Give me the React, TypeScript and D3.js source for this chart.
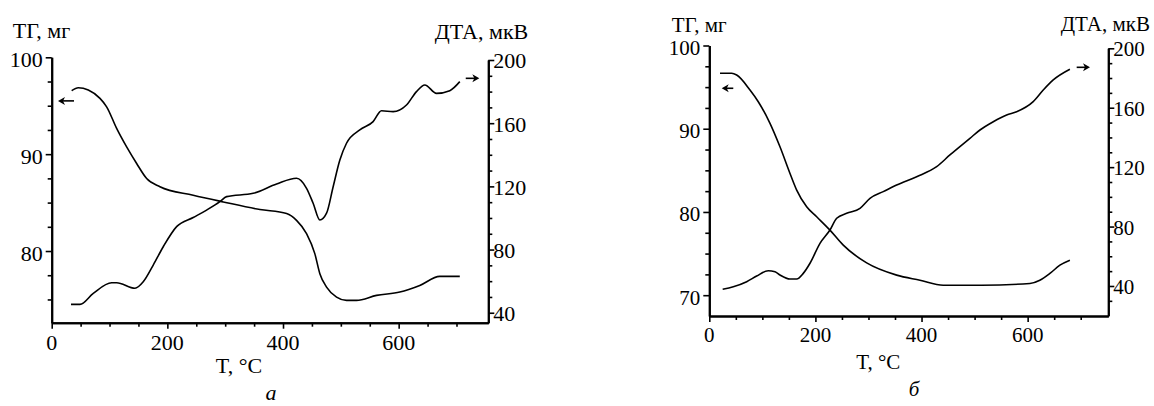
import React, { useRef, useEffect } from 'react';
import * as d3 from 'd3';

// panel "а": [T, value]
const tgA: [number, number][] = [
  [34.6, 96.55], [46, 96.86], [63.3, 96.62], [83.5, 95.76], [95, 94.89], [112.3, 92.66],
  [129.6, 90.75], [146.9, 89.04], [164.2, 87.49], [187.2, 86.64], [244.7, 85.76], [296.6, 85.07],
  [360, 84.28], [406.2, 83.87], [423.4, 83.17], [440.7, 81.8], [455, 79.73], [463.7, 77.66],
  [475.3, 76.28], [492.6, 75.24], [509.8, 74.9], [527.1, 74.9], [561.7, 75.42], [602, 75.76],
  [636.5, 76.45], [671, 77.38], [705.7, 77.38],
];
const dtaA: [number, number][] = [
  [33.4, 45.3], [48.9, 45.3], [71.9, 52.3], [103.7, 59.0], [112.3, 59.0], [144, 55.5],
  [158.3, 59.6], [175.6, 70.2], [192.9, 81.8], [216, 94.5], [244.7, 100.3], [267.9, 105],
  [290.9, 110.3], [302.5, 113.5], [348.4, 115.6], [388.9, 121.5], [423.4, 125.1], [440.7, 118.8],
  [452.1, 109.3], [463.7, 98.7], [475.3, 103], [486.7, 119.8], [498.3, 136.7], [509.8, 147.3],
  [532.8, 155.7], [555.8, 161], [570.3, 167.9], [590.4, 167.3], [613.5, 171.5], [630.8, 180],
  [645.2, 184.2], [665.4, 178.9], [688.4, 180.6], [705.7, 186.3],
];

// panel "б"
const tgB: [number, number][] = [
  [20.2, 96.66], [42.2, 96.66], [51.6, 96.45], [76.7, 94.65], [92.3, 93.24], [114.4, 90.65],
  [133.2, 87.83], [152.1, 84.63], [164.7, 82.63], [183.5, 80.62], [202.4, 79.42], [227.4, 77.82],
  [252.5, 76.01], [296.6, 73.88], [353.1, 72.41], [397, 71.8], [440.9, 71.2], [491.2, 71.2],
  [513.3, 71.2], [604.3, 71.41], [623, 71.8], [641.9, 72.61], [660.8, 73.61], [679.6, 74.21],
];
const dtaB: [number, number][] = [
  [25.2, 37.8], [45.2, 39.5], [70.5, 42.9], [89.3, 46.7], [111.2, 50.3], [123.8, 49.6],
  [133.2, 47.4], [152.1, 44.7], [164.7, 44.7], [177.1, 48.5], [189.8, 55.3], [208.6, 68.7],
  [227.4, 77.7], [240.1, 85.6], [258.9, 88.9], [284, 92.3], [302.8, 99], [327.9, 103.5],
  [353.1, 108], [390.8, 113.6], [428.5, 120.3], [453.5, 128.2], [491.2, 139.4], [510.1, 145],
  [535.2, 150.6], [560.4, 155.1], [579.2, 157.3], [610.5, 164.1], [629.4, 171.9], [648.2, 178.7],
  [679.6, 185.9],
];

// arrows: [T from, T to, value]
const tgArrowA = [38.6, 10.9, 95.5];
const dtaArrowA = [716, 739.5, 188.4];
const tgArrowB = [45.2, 23.4, 94.86];
const dtaArrowB = [692.4, 717.5, 187.2];

const tempTicks = [0, 200, 400, 600];
const tempMinor = [50, 100, 150, 250, 300, 350, 450, 500, 550, 650, 700];
const tgTicksA = [80, 90, 100];
const tgMinorA = [75, 77.5, 82.5, 85, 87.5, 92.5, 95, 97.5];
const tgTicksB = [70, 80, 90, 100];
const tgMinorB = [72.5, 75, 77.5, 82.5, 85, 87.5, 92.5, 95, 97.5];
const dtaTicks = [40, 80, 120, 160, 200];
const dtaMinorA = [50, 60, 70, 90, 100, 110, 130, 140, 150, 170, 180, 190];
const dtaMinorB = [30, 50, 60, 70, 90, 100, 110, 130, 140, 150, 170, 180, 190];

const tgLabel = 'ТГ, мг';
const dtaLabel = 'ДТА, мкВ';
const tempLabel = 'T, °C';
const letters = ['а', 'б'];

const FONT = "'Liberation Serif', 'Times New Roman', serif";

function drawArrow(g, x1, x2, y) {
  const dir = x2 > x1 ? 1 : -1;
  g.append('line')
    .attr('x1', x1).attr('x2', x2 - dir * 4)
    .attr('y1', y).attr('y2', y)
    .attr('stroke', '#000').attr('stroke-width', 1.6);
  g.append('path')
    .attr('d', `M${x2},${y} L${x2 - dir * 7},${y - 4} L${x2 - dir * 5},${y} L${x2 - dir * 7},${y + 4} Z`)
    .attr('fill', '#000');
}

function drawPanel(svg, p) {
  const g = svg.append('g');
  const x = d3.scaleLinear().domain(p.tDomain).range(p.xRange);
  const tg = d3.scaleLinear().domain(p.tgDomain).range(p.tgRange);
  const dta = d3.scaleLinear().domain(p.dtaDomain).range(p.dtaRange);
  const bottom = p.tgRange[0];

  const styleAxis = (sel) => {
    sel.select('.domain').attr('stroke', '#000').attr('stroke-width', 2);
    sel.selectAll('.tick line').attr('stroke', '#000').attr('stroke-width', 1.6);
  };

  // minor ticks
  g.append('g').attr('transform', `translate(0,${bottom})`)
    .call(d3.axisBottom(x).tickValues(tempMinor).tickSize(4).tickSizeOuter(0).tickFormat(() => ''))
    .call(styleAxis);
  g.append('g').attr('transform', `translate(${p.xRange[0]},0)`)
    .call(d3.axisLeft(tg).tickValues(p.tgMinor).tickSize(4).tickSizeOuter(0).tickFormat(() => ''))
    .call(styleAxis);
  g.append('g').attr('transform', `translate(${p.xRange[1]},0)`)
    .call(d3.axisRight(dta).tickValues(p.dtaMinor).tickSize(4).tickSizeOuter(0).tickFormat(() => ''))
    .call(styleAxis);

  // major ticks
  g.append('g').attr('transform', `translate(0,${bottom})`)
    .call(d3.axisBottom(x).tickValues(tempTicks).tickSize(6).tickSizeOuter(0).tickFormat(() => ''))
    .call(styleAxis);
  g.append('g').attr('transform', `translate(${p.xRange[0]},0)`)
    .call(d3.axisLeft(tg).tickValues(p.tgTicks).tickSize(6).tickSizeOuter(0).tickFormat(() => ''))
    .call(styleAxis);
  g.append('g').attr('transform', `translate(${p.xRange[1]},0)`)
    .call(d3.axisRight(dta).tickValues(dtaTicks).tickSize(6).tickSizeOuter(0).tickFormat(() => ''))
    .call(styleAxis);

  const txt = g.append('g').attr('font-family', FONT).attr('font-size', p.fs).attr('fill', '#000');

  txt.selectAll('.tl').data(p.tgTicks).enter().append('text')
    .attr('x', p.xRange[0] - 9).attr('y', d => tg(d)).attr('dy', '0.45em')
    .attr('text-anchor', 'end').text(d => d);
  txt.selectAll('.dl').data(dtaTicks).enter().append('text')
    .attr('x', p.xRange[1] + 5).attr('y', d => dta(d)).attr('dy', '0.38em')
    .attr('text-anchor', 'start').text(d => d);
  txt.selectAll('.xl').data(tempTicks).enter().append('text')
    .attr('x', d => x(d)).attr('y', bottom + p.xLabelOff)
    .attr('text-anchor', 'middle').text(d => d);

  txt.append('text').attr('x', p.tgTitle[0]).attr('y', p.tgTitle[1]).text(tgLabel);
  txt.append('text').attr('x', p.dtaTitle[0]).attr('y', p.dtaTitle[1])
    .attr('text-anchor', 'end').text(dtaLabel);
  txt.append('text').attr('x', p.tTitle[0]).attr('y', p.tTitle[1])
    .attr('text-anchor', 'middle').text(tempLabel);
  txt.append('text').attr('x', p.letter[0]).attr('y', p.letter[1])
    .attr('text-anchor', 'middle').attr('font-style', 'italic').text(p.letterText);

  const lineTg = d3.line<[number, number]>().x(d => x(d[0])).y(d => tg(d[1])).curve(d3.curveMonotoneX);
  const lineDta = d3.line<[number, number]>().x(d => x(d[0])).y(d => dta(d[1])).curve(d3.curveMonotoneX);
  g.append('path').attr('d', lineTg(p.tgData)).attr('fill', 'none')
    .attr('stroke', '#000').attr('stroke-width', 1.6);
  g.append('path').attr('d', lineDta(p.dtaData)).attr('fill', 'none')
    .attr('stroke', '#000').attr('stroke-width', 1.6);

  drawArrow(g, x(p.tgArrow[0]), x(p.tgArrow[1]), tg(p.tgArrow[2]));
  drawArrow(g, x(p.dtaArrow[0]), x(p.dtaArrow[1]), dta(p.dtaArrow[2]));
}

const App = () => {
  const ref = useRef(null);

  useEffect(() => {
    const svg = d3.select(ref.current);
    svg.selectAll('*').remove();

    drawPanel(svg, {
      tDomain: [0, 755], xRange: [51.7, 488.3],
      tgDomain: [72.6, 100], tgRange: [322.7, 57.3],
      dtaDomain: [33.7, 200], dtaRange: [322.7, 60],
      tgTicks: tgTicksA, tgMinor: tgMinorA, dtaMinor: dtaMinorA,
      tgData: tgA, dtaData: dtaA, tgArrow: tgArrowA, dtaArrow: dtaArrowA,
      fs: 22, xLabelOff: 27,
      tgTitle: [12.7, 38], dtaTitle: [528.3, 39], tTitle: [239, 373],
      letter: [271, 400], letterText: letters[0],
    });
    drawPanel(svg, {
      tDomain: [0, 752], xRange: [709.3, 1108.3],
      tgDomain: [67.5, 100], tgRange: [316, 45.5],
      dtaDomain: [20, 200], dtaRange: [315.7, 48.3],
      tgTicks: tgTicksB, tgMinor: tgMinorB, dtaMinor: dtaMinorB,
      tgData: tgB, dtaData: dtaB, tgArrow: tgArrowB, dtaArrow: dtaArrowB,
      fs: 21, xLabelOff: 26,
      tgTitle: [671.7, 31.7], dtaTitle: [1150, 30.7], tTitle: [878.3, 369],
      letter: [914, 396], letterText: letters[1],
    });
  }, []);

  return (
    <svg
      ref={ref}
      width={1154}
      height={406}
      style={{ position: 'absolute', left: 0, top: 0, background: '#fff' }}
    />
  );
};

export default App;
